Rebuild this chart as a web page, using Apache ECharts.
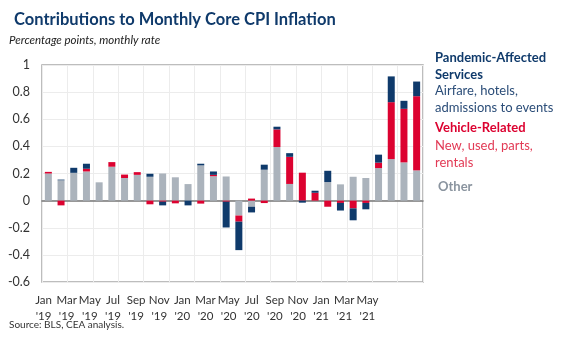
<!DOCTYPE html>
<html>
<head>
<meta charset="utf-8">
<script src="https://cdn.jsdelivr.net/npm/echarts@6/dist/echarts.min.js"></script>
<style>
  html, body { margin: 0; padding: 0; background: #fff; }
  #chart { width: 576px; height: 346px; }
</style>
</head>
<body>
<div id="chart"></div>
<script>
// Months, Jan 2019 – Jun 2021
const months = [
  'Jan 19','Feb 19','Mar 19','Apr 19','May 19','Jun 19','Jul 19','Aug 19','Sep 19','Oct 19','Nov 19','Dec 19',
  'Jan 20','Feb 20','Mar 20','Apr 20','May 20','Jun 20','Jul 20','Aug 20','Sep 20','Oct 20','Nov 20','Dec 20',
  'Jan 21','Feb 21','Mar 21','Apr 21','May 21','Jun 21'
];

// Tick labels shown under the axis (every other month)
const tickLabels = [
  "Jan\n'19","Mar\n'19","May\n'19","Jul\n'19","Sep\n'19","Nov\n'19",
  "Jan\n'20","Mar\n'20","May\n'20","Jul\n'20","Sep\n'20","Nov\n'20",
  "Jan\n'21","Mar\n'21","May\n'21"
];

// Contributions, percentage points
const other = [
  0.20, 0.15, 0.205, 0.215, 0.135, 0.25, 0.167, 0.19, 0.176, 0.20, 0.172, 0.122,
  0.26, 0.18, 0.178, -0.11, -0.045, 0.228, 0.395, 0.123, 0, 0, 0.137, 0.12,
  0.176, 0.167, 0.24, 0.306, 0.282, 0.223
];
const vehicle = [
  0.012, -0.035, 0, 0.02, 0, 0.034, 0.025, 0.02, -0.027, -0.008, -0.02, 0,
  -0.022, 0.01, -0.008, -0.045, 0.015, -0.018, 0.13, 0.2, 0.206, 0.058, -0.045, -0.017,
  -0.057, -0.017, 0.04, 0.42, 0.395, 0.547
];
const services = [
  0, 0.005, 0.037, 0.037, 0, 0, 0, 0, 0.022, -0.027, 0, -0.035,
  0.012, 0.025, -0.19, -0.21, -0.042, 0.037, 0.02, 0.027, -0.015, 0.015, 0.083, -0.056,
  -0.088, -0.047, 0.059, 0.19, 0.059, 0.108
];

const BLUE = '#0f3a6b';
const RED = '#dc0230';
const GRAY = '#abb3bc';
const FONT = 'Lato, "Noto Sans", sans-serif';

const chart = echarts.init(document.getElementById('chart'), null, { renderer: 'canvas' });

function barSeries(name, data, color) {
  return {
    name, type: 'bar', stack: 'total', data,
    xAxisIndex: 0, yAxisIndex: 0,
    barWidth: 7,
    itemStyle: { color },
    emphasis: { disabled: true }
  };
}

chart.setOption({
  animation: false,
  textStyle: { fontFamily: FONT },
  title: {
    text: 'Contributions to Monthly Core CPI Inflation',
    left: 9, top: 6,
    textStyle: { fontFamily: FONT, fontWeight: 'bold', fontSize: 16.5, color: BLUE }
  },
  grid: [
    { left: 42, right: 153, top: 65, bottom: 64, show: true, borderColor: '#a8a8a8', borderWidth: 1.5 },
    { left: 32, width: 347, top: 65, bottom: 64 }
  ],
  xAxis: [
    {
      type: 'category', gridIndex: 0, data: months,
      axisLine: { onZero: true, lineStyle: { color: '#777', width: 1.5 } },
      axisTick: { show: false },
      axisLabel: { show: false },
      splitLine: { show: true, interval: 1, lineStyle: { color: '#ececec', width: 1 } }
    },
    {
      type: 'category', gridIndex: 1, data: tickLabels,
      axisLine: { show: false },
      axisTick: { show: false },
      axisLabel: { interval: 0, margin: 11, fontSize: 11.5, lineHeight: 15.5, color: '#333', fontFamily: FONT },
      splitLine: { show: false }
    }
  ],
  yAxis: [
    {
      type: 'value', gridIndex: 0, min: -0.6, max: 1, interval: 0.2,
      axisLine: { show: false },
      axisTick: { show: false },
      axisLabel: {
        margin: 12, fontSize: 12.5, color: '#333', fontFamily: FONT,
        formatter: v => String(Math.round(v * 10) / 10)
      },
      splitLine: { show: true, lineStyle: { color: '#ececec', width: 1 } }
    },
    { type: 'value', gridIndex: 1, show: false, min: 0, max: 1 }
  ],
  series: [
    barSeries('Other', other, GRAY),
    barSeries('Vehicle-Related', vehicle, RED),
    barSeries('Pandemic-Affected Services', services, BLUE)
  ],
  graphic: [
    {
      type: 'text', left: 9, top: 34,
      style: { text: 'Percentage points, monthly rate', font: 'italic 11.5px ' + FONT, fill: '#222' }
    },
    {
      type: 'text', left: 435, top: 49,
      style: { text: 'Pandemic-Affected\nServices', font: 'bold 13px ' + FONT, fill: BLUE, lineHeight: 17 }
    },
    {
      type: 'text', left: 435, top: 83,
      style: { text: 'Airfare, hotels,\nadmissions to events', font: '13px ' + FONT, fill: '#2b4d78', lineHeight: 16.5 }
    },
    {
      type: 'text', left: 435, top: 121,
      style: { text: 'Vehicle-Related', font: 'bold 13px ' + FONT, fill: RED }
    },
    {
      type: 'text', left: 435, top: 138,
      style: { text: 'New, used, parts,\nrentals', font: '13px ' + FONT, fill: '#e23a55', lineHeight: 16.5 }
    },
    {
      type: 'text', left: 438, top: 180,
      style: { text: 'Other', font: 'bold 13px ' + FONT, fill: '#8a949f' }
    },
    {
      type: 'text', left: 9, top: 320,
      style: { text: 'Source: BLS, CEA analysis.', font: '10px ' + FONT, fill: '#333' }
    }
  ]
});
</script>
</body>
</html>
